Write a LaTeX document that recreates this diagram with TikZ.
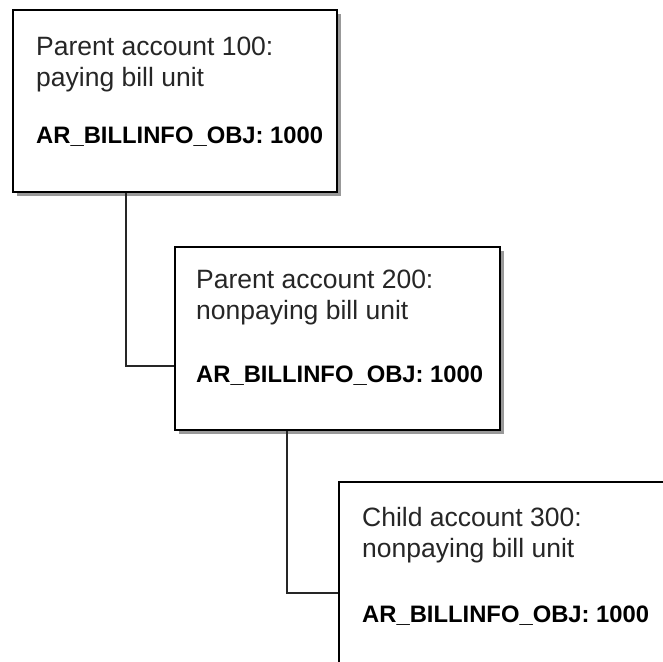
\documentclass[tikz,border=0pt]{standalone}
\usepackage{fontspec}
\setmainfont{Liberation Sans}
\usetikzlibrary{shadows,calc}
\begin{document}
\begin{tikzpicture}[x=1pt,y=-1pt,
  box/.style={draw=black, line width=1.6pt, fill=white,
    drop shadow={shadow xshift=4pt, shadow yshift=-4pt, fill=black!40, opacity=1},
    inner sep=0pt, anchor=north west},
  reg/.style={anchor=base west, inner sep=0pt, text=black!85, font=\fontsize{26.5}{31}\selectfont},
  bld/.style={anchor=base west, inner sep=0pt, text=black, font=\fontsize{23.8}{29}\selectfont\bfseries},
  conn/.style={draw=black!85, line width=1.4pt}]
\useasboundingbox (0,0) rectangle (663,661);
\fill[white] (0,0) rectangle (663,661);
\clip (0,0) rectangle (663,661);
% boxes
\node[box, minimum width=324pt, minimum height=182pt] (b1) at (12,9) {};
\node[box, minimum width=325pt, minimum height=183pt] (b2) at (174,246) {};
\node[box, minimum width=340pt, minimum height=200pt] (b3) at (338,481) {};
% connectors
\coordinate (k1) at (126,366);
\coordinate (k2) at (287,593);
\draw[conn] (b1.south -| k1) |- (b2.west |- k1);
\draw[conn] (b2.south -| k2) |- (b3.west |- k2);
% texts
\node[reg] (t1a) at (36,56) {Parent account 100:};
\node[reg] (t1b) at (36,86.5) {paying bill unit};
\node[bld] (t1c) at (36,143.5) {AR\_BILLINFO\_OBJ: 1000};
\node[reg] (t2a) at (196,288) {Parent account 200:};
\node[reg] (t2b) at (196,319) {nonpaying bill unit};
\node[bld] (t2c) at (196,382) {AR\_BILLINFO\_OBJ: 1000};
\node[reg] (t3a) at (362,526) {Child account 300:};
\node[reg] (t3b) at (362,557) {nonpaying bill unit};
\node[bld] (t3c) at (362,622) {AR\_BILLINFO\_OBJ: 1000};
\end{tikzpicture}
\end{document}
